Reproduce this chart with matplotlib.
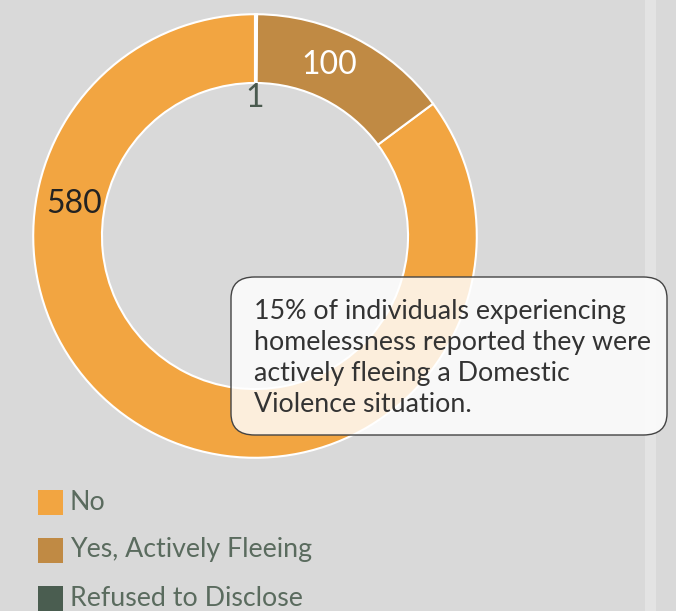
import matplotlib
matplotlib.use("Agg")
import matplotlib.pyplot as plt
import numpy as np
from matplotlib.patches import FancyBboxPatch, Rectangle

categories = ["No", "Yes, Actively Fleeing", "Refused to Disclose"]
values = [580, 100, 1]
colors = ["#f2a541", "#c08a44", "#4a5d50"]
callout = ("15% of individuals experiencing\nhomelessness reported they were\n"
           "actively fleeing a Domestic\nViolence situation.")

plt.rcParams['font.family'] = ['Lato', 'DejaVu Sans']
W, H = 676, 611
fig = plt.figure(figsize=(W/100, H/100), dpi=100)
fig.patch.set_facecolor("#d9d9d9")

# right light strip
fig.patches.append(Rectangle((645/W, 0), 11/W, 1, transform=fig.transFigure,
                             facecolor="#e3e3e3", edgecolor="none", zorder=0))

cx, cy, r = 255, 236, 224
ax = fig.add_axes([(cx-r)/W, (H-cy-r)/H, 2*r/W, 2*r/H])
ax.set_facecolor("none")
wedges, _ = ax.pie(values, colors=colors, startangle=90, counterclock=True,
                   radius=1.0, wedgeprops=dict(width=0.31, edgecolor="white", linewidth=1.5))
ax.set_xlim(-1.01, 1.01)
ax.set_ylim(-1.01, 1.01)
ax.set_aspect("equal")
ax.axis("off")

# data labels
label_specs = [(170, 0.83, "#222222"), (66.5, 0.84, "white"), (90, 0.62, "#4a5a4f")]
for w, v, (ang, rad, col) in zip(wedges, values, label_specs):
    a = ang if ang is not None else (w.theta1 + w.theta2) / 2
    x, y = rad*np.cos(np.deg2rad(a)), rad*np.sin(np.deg2rad(a))
    ax.text(x, y, str(v), ha="center", va="center", fontsize=23, color=col, zorder=5)

# callout box
bx0, by0, bx1, by1 = 231, 277, 667, 435
box = FancyBboxPatch((bx0/W, (H-by1)/H), (bx1-bx0)/W, (by1-by0)/H,
                     boxstyle="round,pad=0,rounding_size=0.035",
                     transform=fig.transFigure, facecolor="#ffffff", alpha=0.82,
                     edgecolor="none", zorder=3)
fig.patches.append(box)
box2 = FancyBboxPatch((bx0/W, (H-by1)/H), (bx1-bx0)/W, (by1-by0)/H,
                      boxstyle="round,pad=0,rounding_size=0.035",
                      transform=fig.transFigure, facecolor="none",
                      edgecolor="#444444", linewidth=1.0, zorder=4)
fig.patches.append(box2)
fig.text(254/W, (H-358)/H, callout, ha="left", va="center", fontsize=19.3,
         color="#333333", linespacing=1.29, zorder=5)

# legend
for i, (c, lab) in enumerate(zip(colors, categories)):
    yc = 502 + i*48
    fig.patches.append(Rectangle((38/W, (H-yc-12.5)/H), 25/W, 25/H,
                                 transform=fig.transFigure, facecolor=c,
                                 edgecolor="none"))
    fig.text(70/W, (H-yc)/H, lab, ha="left", va="center", fontsize=19.3,
             color="#5a6b5e")

fig.savefig("out.png", dpi=100, facecolor=fig.get_facecolor())
